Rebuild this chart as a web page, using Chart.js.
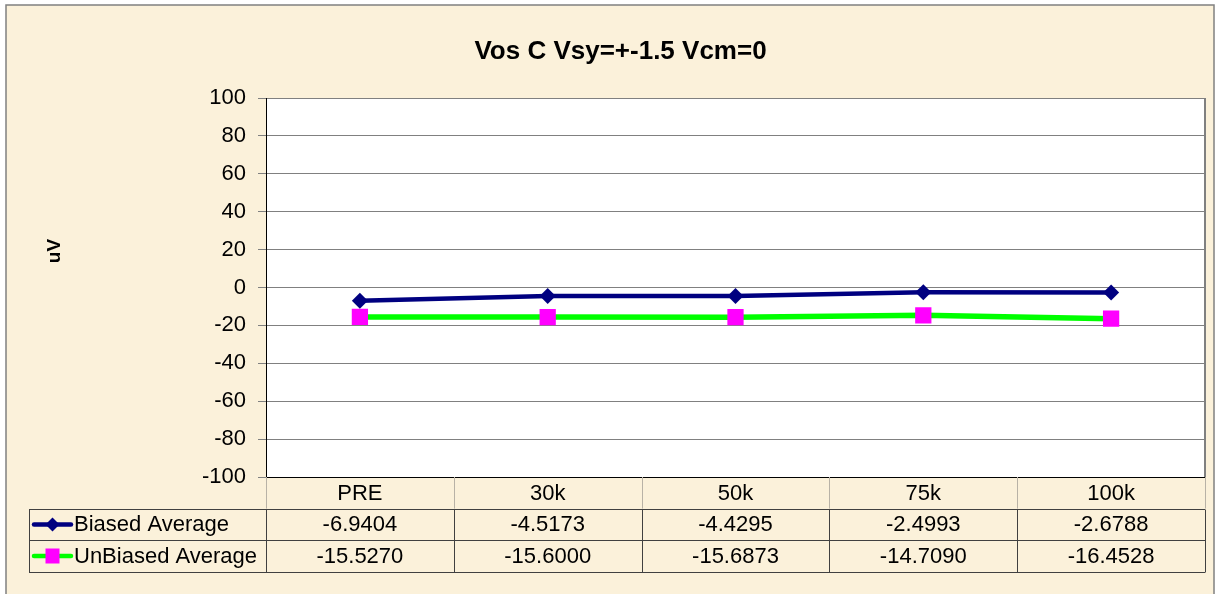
<!DOCTYPE html>
<html><head><meta charset="utf-8">
<script src="https://cdn.jsdelivr.net/npm/chart.js@4.4.1/dist/chart.umd.min.js"></script>
<style>html,body{margin:0;padding:0;background:#fff;overflow:hidden}#wrap{width:1219px;height:594px;position:relative}</style>
</head><body><div id="wrap"><canvas id="c" width="1219" height="594"></canvas></div>
<script>
const categories = ['PRE', '30k', '50k', '75k', '100k'];
const biasedAverage = [-6.9404, -4.5173, -4.4295, -2.4993, -2.6788];
const unbiasedAverage = [-15.5270, -15.6000, -15.6873, -14.7090, -16.4528];
const seriesNames = ['Biased Average', 'UnBiased Average'];
const yTicks = [100, 80, 60, 40, 20, 0, -20, -40, -60, -80, -100];
const chartTitle = 'Vos C Vsy=+-1.5 Vcm=0';
const yTitle = 'uV';

const FONT = "'Liberation Sans', Arial, sans-serif";
const PARCH = '#FBF1DA';

const decor = {
  id: 'decor',
  beforeDraw(chart) {
    const ctx = chart.ctx, ca = chart.chartArea;
    ctx.save();
    ctx.fillStyle = '#fff';
    ctx.fillRect(0, 0, chart.width, chart.height);
    ctx.fillStyle = PARCH;
    ctx.fillRect(6, 5, 1208, 600);
    ctx.strokeStyle = '#808080';
    ctx.lineWidth = 1.5;
    ctx.strokeRect(6, 5, 1208, 600);
    ctx.fillStyle = '#fff';
    ctx.fillRect(ca.left, ca.top, ca.right - ca.left, ca.bottom - ca.top);
    ctx.restore();
  },
  afterDraw(chart) {
    const ctx = chart.ctx, ca = chart.chartArea;
    const n = categories.length;
    const colW = (ca.right - ca.left) / n;
    const rowH = 31.6;
    const tableLeft = 29;
    ctx.save();
    // plot right border
    ctx.strokeStyle = '#808080';
    ctx.lineWidth = 2;
    ctx.beginPath();
    ctx.moveTo(ca.right, ca.top);
    ctx.lineTo(ca.right, ca.bottom);
    ctx.stroke();
    // header row verticals (light)
    ctx.strokeStyle = '#b8b2a6';
    ctx.lineWidth = 1;
    ctx.beginPath();
    for (let i = 0; i <= n; i++) {
      const x = Math.round(ca.left + i * colW) + 0.5;
      ctx.moveTo(x, ca.bottom);
      ctx.lineTo(x, ca.bottom + rowH);
    }
    ctx.stroke();
    // data rows grid
    ctx.strokeStyle = '#404040';
    ctx.beginPath();
    for (let r = 1; r <= 3; r++) {
      const y = Math.round(ca.bottom + r * rowH) + 0.5;
      ctx.moveTo(tableLeft, y);
      ctx.lineTo(ca.right, y);
    }
    const y1 = Math.round(ca.bottom + rowH) + 0.5, y3 = Math.round(ca.bottom + 3 * rowH) + 0.5;
    ctx.moveTo(tableLeft + 0.5, y1); ctx.lineTo(tableLeft + 0.5, y3);
    for (let i = 0; i <= n; i++) {
      const x = Math.round(ca.left + i * colW) + 0.5;
      ctx.moveTo(x, y1);
      ctx.lineTo(x, y3);
    }
    ctx.stroke();
    // header text
    ctx.fillStyle = '#000';
    ctx.font = '22px ' + FONT;
    ctx.textAlign = 'center';
    ctx.textBaseline = 'middle';
    const xs = chart.scales.x;
    categories.forEach((c, i) => {
      ctx.fillText(c, xs.getPixelForValue(i), ca.bottom + rowH / 2 + 1);
    });
    const rows = [biasedAverage, unbiasedAverage];
    rows.forEach((vals, r) => {
      const yc = ca.bottom + (r + 1.5) * rowH + 1;
      vals.forEach((v, i) => {
        ctx.fillText(v.toFixed(4), xs.getPixelForValue(i), yc);
      });
      // legend key
      const ds = chart.data.datasets[r];
      ctx.strokeStyle = ds.borderColor;
      ctx.lineWidth = 4.5;
      ctx.lineCap = 'round';
      ctx.beginPath();
      ctx.moveTo(34, yc - 1);
      ctx.lineTo(71, yc - 1);
      ctx.stroke();
      ctx.fillStyle = ds.pointBackgroundColor;
      ctx.beginPath();
      if (r === 0) {
        ctx.moveTo(52.5, yc - 8); ctx.lineTo(59.5, yc - 1); ctx.lineTo(52.5, yc + 6); ctx.lineTo(45.5, yc - 1);
      } else {
        ctx.rect(45.5, yc - 8.5, 14, 15);
      }
      ctx.closePath();
      ctx.fill();
      ctx.fillStyle = '#000';
      ctx.textAlign = 'left';
      ctx.fillText(seriesNames[r], 74, yc);
      ctx.textAlign = 'center';
    });
    // y title
    ctx.translate(55, 251);
    ctx.rotate(-Math.PI / 2);
    ctx.font = 'bold 19px ' + FONT;
    ctx.fillText(yTitle, 0, 0);
    ctx.restore();
  }
};

new Chart(document.getElementById('c'), {
  type: 'line',
  data: {
    labels: categories,
    datasets: [
      {
        label: seriesNames[0], data: biasedAverage,
        borderColor: '#000080', borderWidth: 4.5,
        pointStyle: 'rectRot', pointRadius: 8,
        pointBackgroundColor: '#000080', pointBorderColor: '#000080', pointBorderWidth: 0,
        tension: 0
      },
      {
        label: seriesNames[1], data: unbiasedAverage,
        borderColor: '#00FF00', borderWidth: 5.5,
        pointStyle: 'rect', pointRadius: 11.5,
        pointBackgroundColor: '#FF00FF', pointBorderColor: '#FF00FF', pointBorderWidth: 0,
        tension: 0
      }
    ]
  },
  options: {
    responsive: false,
    animation: false,
    events: [],
    layout: { padding: { left: 36, right: 14, top: 0, bottom: 117 } },
    plugins: {
      legend: { display: false },
      tooltip: { enabled: false },
      title: {
        display: true, text: chartTitle, color: '#000',
        font: { family: FONT, size: 26, weight: 'bold' },
        padding: { top: 36, bottom: 30.8 }
      }
    },
    scales: {
      x: { display: false, offset: true },
      y: {
        min: -100, max: 100,
        afterBuildTicks: s => { s.ticks = yTicks.map(v => ({ value: v })); },
        afterFit: s => { s.width = 230; },
        ticks: { color: '#000', font: { family: FONT, size: 22 }, padding: 12 },
        grid: {
          color: c => (c.tick && c.tick.value === -100) ? '#000' : '#808080',
          tickColor: '#808080',
          tickLength: 8, lineWidth: 1
        },
        border: { display: true, color: '#000', width: 1 }
      }
    }
  },
  plugins: [decor]
});
</script></body></html>
